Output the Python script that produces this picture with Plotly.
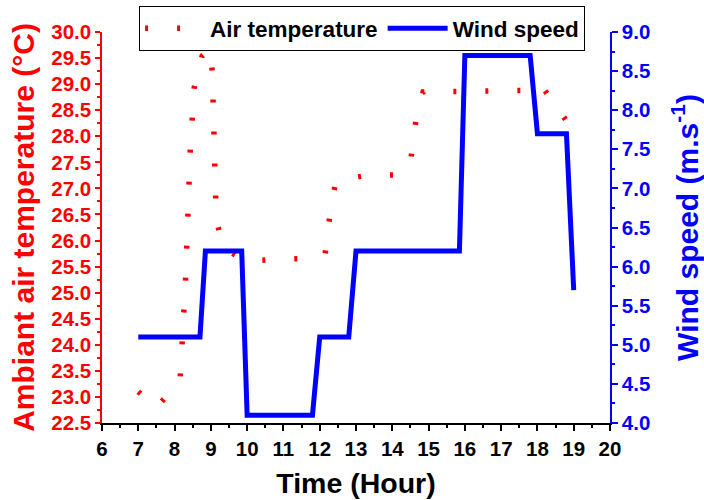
import plotly.graph_objects as go

# Hourly air temperature (°C)
temp_hour = [7.0, 7.5, 8.15, 8.3, 8.43, 8.54, 8.76, 9.0, 9.04, 9.15, 9.35, 10.0, 10.9,
             11.75, 12.15, 12.3, 12.45, 13.3, 14.2, 14.5, 14.65, 14.85, 17.8, 18.1, 19.0]
temp_val = [23.1, 22.8, 23.3, 25.2, 27.7, 28.93, 29.54, 29.68, 29.2, 26.4, 25.85, 25.6, 25.65,
            25.65, 25.75, 26.6, 27.15, 27.25, 27.26, 27.5, 28.3, 28.85, 28.88, 28.98, 28.1]

# Wind speed (m/s)
wind_hour = [7.0, 8.7, 8.85, 9.85, 10.0, 11.8, 12.0, 12.8, 13.0, 15.85, 16.0, 17.8, 18.0, 18.8, 19.0]
wind_speed = [5.1, 5.1, 6.2, 6.2, 4.1, 4.1, 5.1, 5.1, 6.2, 6.2, 8.7, 8.7, 7.7, 7.7, 5.7]

x_ticks = list(range(6, 21))

RED = "#FF0000"
BLUE = "#0000FF"
FONT = "Liberation Sans, Arial, sans-serif"
TICK_SIZE = 20.5

fig = go.Figure()
fig.add_trace(go.Scatter(
    x=temp_hour, y=temp_val, mode="lines", name="Air temperature",
    line=dict(color=RED, width=5.5, dash="3px,29px"),
    yaxis="y",
))
fig.add_trace(go.Scatter(
    x=wind_hour, y=wind_speed, mode="lines", name="Wind speed",
    line=dict(color=BLUE, width=5),
    yaxis="y2",
))

fig.update_layout(
    width=704, height=500,
    margin=dict(l=102, r=94, t=32, b=77, autoexpand=False),
    paper_bgcolor="white", plot_bgcolor="white",
    font=dict(family=FONT, weight="bold", color="black"),
    showlegend=True,
    legend=dict(
        orientation="h", x=0.073, y=1.066, xanchor="left", yanchor="top",
        xref="paper", yref="paper",
        bgcolor="white", bordercolor="black", borderwidth=1,
        font=dict(family=FONT, size=22.5, weight="bold", color="black"),
        itemwidth=60,
    ),
    xaxis=dict(
        range=[6, 20], tickmode="array", tickvals=x_ticks, ticktext=[str(v) for v in x_ticks],
        showgrid=False, zeroline=False,
        showline=True, linecolor="black", linewidth=2,
        ticks="outside", ticklen=6, tickwidth=1.5, tickcolor="black",
        minor=dict(dtick=0.5, ticks="outside", ticklen=3, tickwidth=1.5, tickcolor="black"),
        tickfont=dict(family=FONT, size=TICK_SIZE, weight="bold", color="black"),
        title=dict(text="Time (Hour)", standoff=14,
                   font=dict(family=FONT, size=28.5, weight="bold", color="black")),
    ),
    yaxis=dict(
        range=[22.5, 30], dtick=0.5, tick0=22.5, tickformat=".1f",
        showgrid=False, zeroline=False,
        showline=True, linecolor=RED, linewidth=1.5,
        ticks="outside", ticklen=5, tickwidth=1.5, tickcolor=RED,
        minor=dict(dtick=0.25, ticks="outside", ticklen=3, tickwidth=1.5, tickcolor=RED),
        tickfont=dict(family=FONT, size=TICK_SIZE, weight="bold", color=RED),
        title=dict(text="Ambiant air temperature (°C)", standoff=8,
                   font=dict(family=FONT, size=30, weight="bold", color=RED)),
    ),
    yaxis2=dict(
        range=[4, 9], dtick=0.5, tick0=4, tickformat=".1f",
        overlaying="y", side="right", anchor="x",
        showgrid=False, zeroline=False,
        showline=True, linecolor=BLUE, linewidth=1.5,
        ticks="outside", ticklen=6, tickwidth=1.5, tickcolor=BLUE,
        minor=dict(dtick=0.25, ticks="outside", ticklen=3, tickwidth=1.5, tickcolor=BLUE),
        tickfont=dict(family=FONT, size=TICK_SIZE, weight="bold", color=BLUE),
        title=dict(text="Wind speed (m.s<sup>-1</sup>)", standoff=29,
                   font=dict(family=FONT, size=30, weight="bold", color=BLUE)),
    ),
)

fig.write_html("out.html")
